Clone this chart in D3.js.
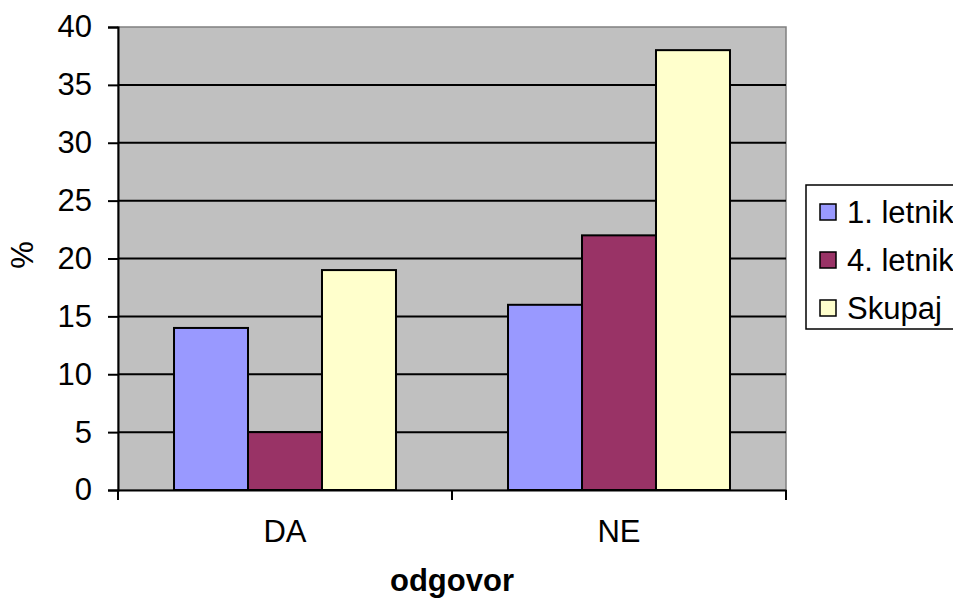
<!DOCTYPE html>
<html>
<head>
<meta charset="utf-8">
<script src="https://cdn.jsdelivr.net/npm/d3@7"></script>
<style>
  body { margin: 0; background: #fff; }
  svg text { font-family: "Liberation Sans", Arial, sans-serif; fill: #000; }
</style>
</head>
<body>
<script>
var categories = ['DA', 'NE'];
var seriesNames = ['1. letnik', '4. letnik', 'Skupaj'];
var seriesValues = [
    [14, 16],  // 1. letnik
    [5, 22],   // 4. letnik
    [19, 38]   // Skupaj
];
var yTicks = [0, 5, 10, 15, 20, 25, 30, 35, 40];

var width = 953,
    height = 605,
    fontSize = 31;

// note: "top" is taken by window.top, so use plot* names
var plotLeft = 118, plotRight = 786, plotTop = 27, plotBottom = 490;

var colors = ['#9999FF', '#993366', '#FFFFCC'];

var svg = d3.select('body').append('svg')
    .attr('width', width)
    .attr('height', height);

var y = d3.scaleLinear().domain([0, 40]).range([plotBottom, plotTop]);

var x0 = d3.scaleBand()
    .domain(categories)
    .range([plotLeft, plotRight])
    .paddingInner(0)
    .paddingOuter(0);

// bars take 222 of 334 px in each group
var x1 = d3.scaleBand()
    .domain(d3.range(seriesNames.length))
    .range([0, x0.bandwidth()])
    .paddingOuter(0.757)
    .paddingInner(0);

// plot background
svg.append('rect')
    .attr('x', plotLeft).attr('y', plotTop)
    .attr('width', plotRight - plotLeft).attr('height', plotBottom - plotTop)
    .attr('fill', '#C0C0C0')
    .attr('stroke', '#808080')
    .attr('stroke-width', 1.5);

// gridlines
svg.append('g')
    .selectAll('line')
    .data(yTicks.filter(function (d) { return d > 0 && d < 40; }))
    .enter().append('line')
    .attr('x1', plotLeft).attr('x2', plotRight)
    .attr('y1', function (d) { return y(d); })
    .attr('y2', function (d) { return y(d); })
    .attr('stroke', '#000')
    .attr('stroke-width', 2);

// bars
var rows = [];
categories.forEach(function (c, ci) {
    seriesValues.forEach(function (vals, si) {
        rows.push({ cat: c, s: si, value: vals[ci] });
    });
});

svg.append('g')
    .selectAll('rect')
    .data(rows)
    .enter().append('rect')
    .attr('x', function (d) { return x0(d.cat) + x1(d.s); })
    .attr('y', function (d) { return y(d.value); })
    .attr('width', x1.bandwidth())
    .attr('height', function (d) { return plotBottom - y(d.value); })
    .attr('fill', function (d) { return colors[d.s]; })
    .attr('stroke', '#000')
    .attr('stroke-width', 2);

// y axis
var yAxis = svg.append('g')
    .attr('transform', 'translate(' + plotLeft + ',0)')
    .call(d3.axisLeft(y).tickValues(yTicks).tickSize(10).tickPadding(16));
yAxis.select('.domain').attr('stroke', '#000').attr('stroke-width', 2);
yAxis.selectAll('.tick line').attr('stroke', '#000').attr('stroke-width', 2);
yAxis.selectAll('.tick text')
    .style('font-size', fontSize + 'px')
    .attr('font-family', null);

// x axis
var xAxis = svg.append('g')
    .attr('transform', 'translate(0,' + plotBottom + ')')
    .call(d3.axisBottom(x0).tickSize(0).tickPadding(30));
xAxis.select('.domain').attr('stroke', '#000').attr('stroke-width', 2);
xAxis.selectAll('.tick text')
    .style('font-size', fontSize + 'px')
    .attr('font-family', null);

// tick marks between categories
var bounds = [plotLeft].concat(categories.map(function (c) { return x0(c) + x0.bandwidth(); }));
svg.append('g')
    .selectAll('line')
    .data(bounds)
    .enter().append('line')
    .attr('x1', function (d) { return d; })
    .attr('x2', function (d) { return d; })
    .attr('y1', plotBottom).attr('y2', plotBottom + 10)
    .attr('stroke', '#000')
    .attr('stroke-width', 2);

// axis titles
svg.append('text')
    .attr('x', (plotLeft + plotRight) / 2)
    .attr('y', 591)
    .attr('text-anchor', 'middle')
    .style('font-size', fontSize + 'px')
    .style('font-weight', 'bold')
    .text('odgovor');

svg.append('text')
    .attr('transform', 'translate(33,255) rotate(-90)')
    .attr('text-anchor', 'middle')
    .style('font-size', fontSize + 'px')
    .text('%');

// legend
var legend = svg.append('g');
legend.append('rect')
    .attr('x', 806).attr('y', 185)
    .attr('width', 170).attr('height', 144)
    .attr('fill', '#fff')
    .attr('stroke', '#000')
    .attr('stroke-width', 1.5);

var item = legend.selectAll('g.item')
    .data(seriesNames)
    .enter().append('g')
    .attr('class', 'item')
    .attr('transform', function (d, i) { return 'translate(0,' + (212 + i * 48) + ')'; });

item.append('rect')
    .attr('x', 820).attr('y', -8)
    .attr('width', 16).attr('height', 16)
    .attr('fill', function (d, i) { return colors[i]; })
    .attr('stroke', '#000')
    .attr('stroke-width', 1.5);

item.append('text')
    .attr('x', 847)
    .attr('y', 11)
    .style('font-size', fontSize + 'px')
    .text(function (d) { return d; });
</script>
</body>
</html>
